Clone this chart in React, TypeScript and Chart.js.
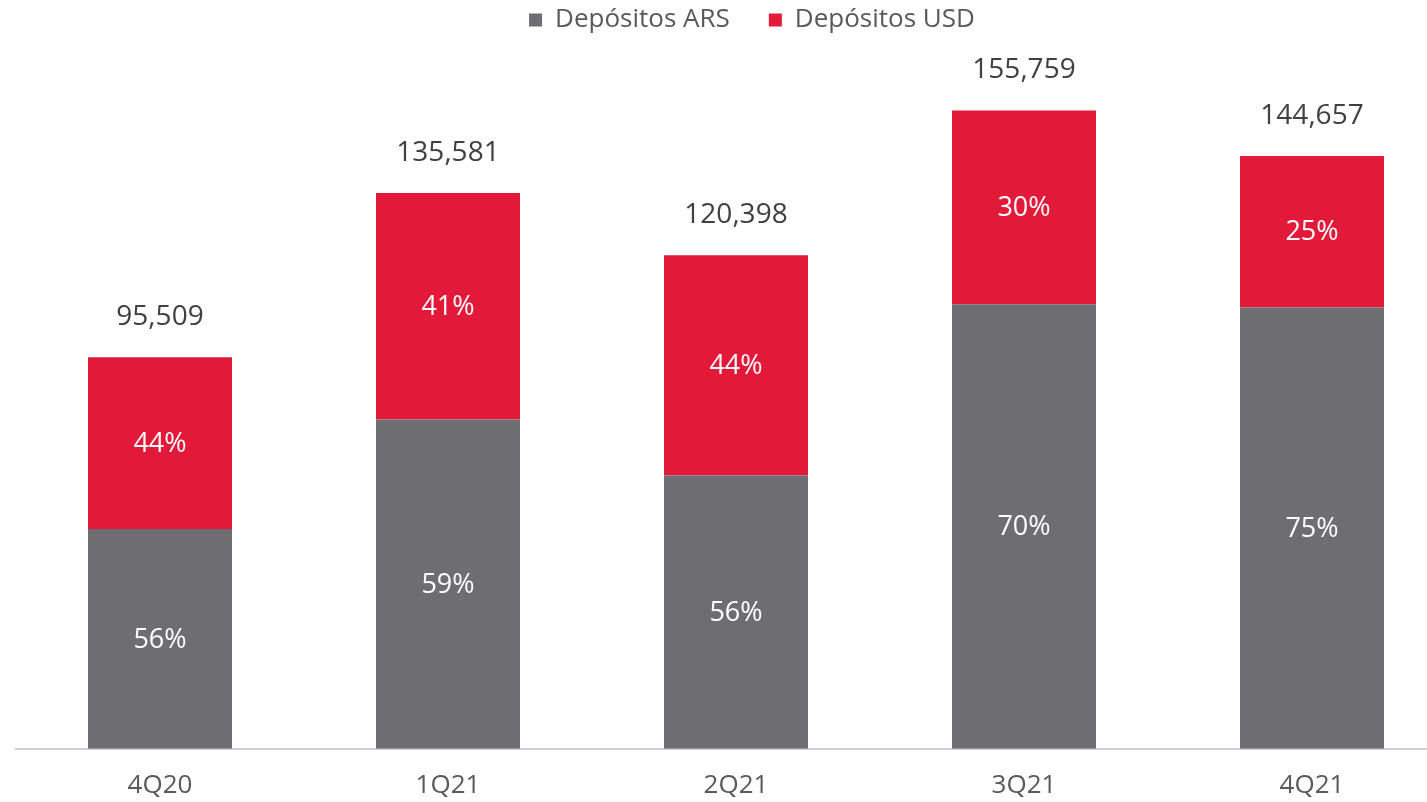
import React, { useEffect, useRef } from "react";
import { Chart, registerables } from "chart.js";

Chart.register(...registerables);

const categories = ["4Q20", "1Q21", "2Q21", "3Q21", "4Q21"];
const depositosARS = [53620, 80370, 66670, 108480, 107650];
const depositosUSD = [41889, 55211, 53728, 47279, 37007];
const pctARS = ["56%", "59%", "56%", "70%", "75%"];
const pctUSD = ["44%", "41%", "44%", "30%", "25%"];

const GRAY = "#6e6d72";
const RED = "#e3193a";
const FONT = "'Open Sans', 'Noto Sans', sans-serif";

const labelsPlugin = {
  id: "barLabels",
  afterDatasetsDraw(chart: any) {
    const ctx = chart.ctx;
    ctx.save();
    ctx.textAlign = "center";
    ctx.textBaseline = "middle";
    const m0 = chart.getDatasetMeta(0);
    const m1 = chart.getDatasetMeta(1);
    const pctSets = [pctARS, pctUSD];
    [m0, m1].forEach((meta: any, di: number) => {
      meta.data.forEach((bar: any, i: number) => {
        const yc = (bar.y + bar.base) / 2 + 1;
        ctx.fillStyle = "#ffffff";
        ctx.font = `27px ${FONT}`;
        ctx.fillText(pctSets[di][i], bar.x, yc);
      });
    });
    m1.data.forEach((bar: any, i: number) => {
      const total = depositosARS[i] + depositosUSD[i];
      ctx.fillStyle = "#404040";
      ctx.font = `28px ${FONT}`;
      ctx.fillText(total.toLocaleString("en-US"), bar.x, bar.y - 40);
    });
    ctx.restore();
  },
};

const legendShift = {
  id: "legendShift",
  afterLayout(chart: any) {
    const lg = chart.legend;
    if (lg) {
      lg.left += 16;
      lg.right += 16;
      lg.top -= 32;
      lg.bottom -= 32;
    }
  },
};

export default function App() {
  const ref = useRef<HTMLCanvasElement | null>(null);
  useEffect(() => {
    document.body.style.margin = "0";
    const chart = new Chart(ref.current as HTMLCanvasElement, {
      type: "bar",
      data: {
        labels: categories,
        datasets: [
          { label: "Depósitos ARS", data: depositosARS, backgroundColor: GRAY, borderWidth: 0 },
          { label: "Depósitos USD", data: depositosUSD, backgroundColor: RED, borderWidth: 0 },
        ],
      },
      options: {
        animation: false,
        responsive: false,
        maintainAspectRatio: false,
        layout: { padding: { left: 16, right: 48, top: 0, bottom: 2 } },
        datasets: { bar: { categoryPercentage: 1, barPercentage: 0.5 } },
        plugins: {
          legend: {
            position: "top",
            labels: {
              boxWidth: 13,
              boxHeight: 13,
              padding: 39,
              color: "#595959",
              font: { family: FONT, size: 26 },
            },
          },
          tooltip: { enabled: false },
        },
        scales: {
          x: {
            stacked: true,
            grid: { display: false, drawTicks: false },
            border: { display: true, color: "#d0d0d0", width: 2 },
            ticks: { padding: 21, color: "#595959", font: { family: FONT, size: 26 } },
          },
          y: {
            stacked: true,
            display: false,
            min: 0,
            max: 164400,
          },
        },
      },
      plugins: [labelsPlugin, legendShift],
    });
    return () => chart.destroy();
  }, []);
  return (
    <div style={{ position: "fixed", left: 0, top: 0, width: 1427, height: 802, overflow: "hidden", background: "#fff" }}>
      <canvas ref={ref} width={1504} height={824} style={{ display: "block", width: 1504, height: 824 }} />
    </div>
  );
}
